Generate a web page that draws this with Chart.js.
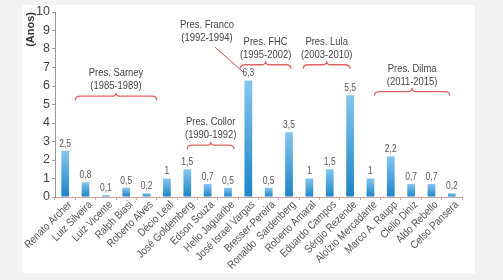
<!DOCTYPE html>
<html>
<head>
<meta charset="utf-8">
<script src="https://cdn.jsdelivr.net/npm/chart.js@4.4.1/dist/chart.umd.min.js"></script>
<style>
  html, body { margin:0; padding:0; background:#f1f2f3; width:503px; height:280px; overflow:hidden; }
  #panel { position:absolute; left:22px; top:5px; width:453px; height:268px; background:#ffffff; }
  #c { position:absolute; left:0; top:0; }
</style>
</head>
<body>
<div id="panel"></div>
<canvas id="c" width="503" height="280"></canvas>
<script>
const categories = ['Renato Archer','Luiz Silveira','Luiz Vicente','Ralph Biasi','Roberto Alves','Décio Leal','José Goldemberg','Edson Souza','Helio Jaguaribe','José Israel Vargas','Bresser-Pereira','Ronaldo  Sardenberg','Roberto Amaral','Eduardo Campos','Sérgio Rezende','Aloízio Mercadante','Marco A. Raupp','Clelio Diniz','Aldo Rebello','Celso Pansera'];
const years = [2.5, 0.8, 0.1, 0.5, 0.2, 1, 1.5, 0.7, 0.5, 6.3, 0.5, 3.5, 1, 1.5, 5.5, 1, 2.2, 0.7, 0.7, 0.2];
const yTicks = [0,1,2,3,4,5,6,7,8,9,10];

const presLabels = [['Pres. Sarney','(1985-1989)'],['Pres. Collor','(1990-1992)'],['Pres. FHC','(1995-2002)'],['Pres. Lula','(2003-2010)'],['Pres. Dilma','(2011-2015)']];
const presFrom = [0.5, 6.0, 8.6, 11.7, 15.2];
const presTo   = [4.5, 8.3, 11.1, 14.0, 18.9];
const presY    = [5.45, 2.8, 7.15, 7.15, 5.7];
const francoLabel = ['Pres. Franco','(1992-1994)'];
const francoText = [6.97, 9.3];
const francoLine = [[7.36, 8.1],[8.74, 6.76]];

const FONT = "'Liberation Sans', Arial, sans-serif";
const fmt = v => String(v).replace('.', ',');

function ntext(ctx, s, x, y, sx) {
  ctx.save(); ctx.translate(x, y); ctx.scale(sx, 1); ctx.fillText(s, 0, 0); ctx.restore();
}

const overlay = {
  id: 'overlay',
  afterDatasetsDraw(chart) {
    const ctx = chart.ctx, xs = chart.scales.x, ys = chart.scales.y;
    const meta = chart.getDatasetMeta(0);
    ctx.save();
    // value labels
    ctx.font = '10px ' + FONT;
    ctx.fillStyle = '#555';
    ctx.textAlign = 'center';
    ctx.textBaseline = 'bottom';
    meta.data.forEach((bar, i) => {
      ntext(ctx, fmt(years[i]), bar.x, bar.y - 2, 0.85);
    });
    // category labels (rotated, condensed)
    ctx.font = '11px ' + FONT;
    ctx.fillStyle = '#555';
    ctx.textAlign = 'right';
    ctx.textBaseline = 'middle';
    categories.forEach((lab, i) => {
      const x = xs.getPixelForValue(i) + 5;
      const y = xs.top + 6;
      ctx.save();
      ctx.translate(x, y);
      ctx.rotate(-Math.PI / 4);
      ctx.scale(0.87, 1);
      ctx.fillText(lab, 0, 0);
      ctx.restore();
    });
    // braces
    ctx.font = '11.5px ' + FONT;
    ctx.fillStyle = '#444';
    ctx.textAlign = 'center';
    ctx.textBaseline = 'middle';
    presLabels.forEach((lab, i) => {
      const x1 = xs.getPixelForValue(presFrom[i]);
      const x2 = xs.getPixelForValue(presTo[i]);
      const y = ys.getPixelForValue(presY[i]);
      const xm = (x1 + x2) / 2;
      ctx.strokeStyle = '#e06464';
      ctx.lineWidth = 1.3;
      ctx.beginPath();
      ctx.moveTo(x1, y + 4);
      ctx.quadraticCurveTo(x1, y, x1 + 5, y);
      ctx.lineTo(xm - 4, y);
      ctx.quadraticCurveTo(xm, y, xm, y - 3.5);
      ctx.quadraticCurveTo(xm, y, xm + 4, y);
      ctx.lineTo(x2 - 5, y);
      ctx.quadraticCurveTo(x2, y, x2, y + 4);
      ctx.stroke();
      ntext(ctx, lab[0], xm, y - 23, 0.82);
      ntext(ctx, lab[1], xm, y - 10, 0.82);
    });
    // Franco
    const fx = xs.getPixelForValue(francoText[0]);
    const fy = ys.getPixelForValue(francoText[1]);
    ntext(ctx, francoLabel[0], fx, fy, 0.82);
    ntext(ctx, francoLabel[1], fx, fy + 13, 0.82);
    ctx.strokeStyle = '#c0504d';
    ctx.lineWidth = 1;
    ctx.beginPath();
    ctx.moveTo(xs.getPixelForValue(francoLine[0][0]), ys.getPixelForValue(francoLine[0][1]));
    ctx.lineTo(xs.getPixelForValue(francoLine[1][0]), ys.getPixelForValue(francoLine[1][1]));
    ctx.stroke();
    ctx.restore();
  }
};

new Chart(document.getElementById('c'), {
  type: 'bar',
  data: {
    labels: categories,
    datasets: [{
      data: years,
      backgroundColor(c) {
        const chart = c.chart;
        if (!chart.chartArea) return '#3a9ad9';
        const y = chart.scales.y;
        const top = y.getPixelForValue(c.raw), base = y.getPixelForValue(0);
        const g = chart.ctx.createLinearGradient(0, top, 0, base);
        g.addColorStop(0, '#85c6ef');
        g.addColorStop(1, '#1a84c7');
        return g;
      },
      borderWidth: 0,
      categoryPercentage: 1,
      barPercentage: 0.38
    }]
  },
  options: {
    responsive: false,
    devicePixelRatio: 1,
    animation: false,
    layout: { padding: { left: 20, top: 12, right: 41, bottom: 0 } },
    plugins: { legend: { display: false }, tooltip: { enabled: false } },
    scales: {
      x: {
        afterFit(s) { s.height = 83; s.paddingLeft = 0; s.paddingRight = 0; },
        grid: { drawOnChartArea: false, drawTicks: true, tickLength: 3, color: '#d9a3a3' },
        border: { color: '#d0a0a0' },
        ticks: { display: false, autoSkip: false }
      },
      y: {
        min: 0, max: 10,
        afterFit(s) { s.width = 35; },
        afterBuildTicks(s) { s.ticks = yTicks.map(v => ({ value: v })); },
        grid: { drawOnChartArea: false, drawTicks: true, tickLength: 3, color: '#999' },
        border: { color: '#999' },
        ticks: { padding: 2, color: '#444', font: { family: FONT, size: 12.5 } },
        title: { display: true, text: '(Anos)', align: 'end', color: '#333', padding: { top: 4, bottom: 0 }, font: { family: FONT, size: 11, weight: 'bold' } }
      }
    }
  },
  plugins: [overlay]
});
</script>
</body>
</html>
